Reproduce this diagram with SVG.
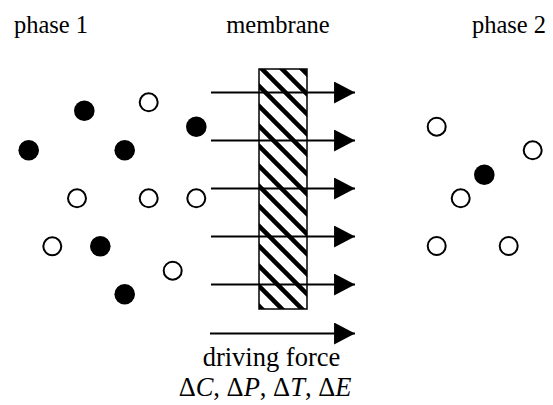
<svg xmlns="http://www.w3.org/2000/svg" width="553" height="405" viewBox="0 0 553 405">
<style>
text{font-family:"Liberation Serif","Times New Roman",serif;font-size:24.5px;fill:#000;text-anchor:middle}
.big{font-size:26.5px}
.i{font-style:italic}
.open{fill:#fff;stroke:#000;stroke-width:2}
.full{fill:#000}
.arr{stroke:#000;stroke-width:2;fill:none;marker-end:url(#ah)}
</style>
<defs>
<marker id="ah" markerUnits="userSpaceOnUse" markerWidth="22" markerHeight="22" refX="20" refY="10.5" orient="auto" viewBox="0 0 20 21">
<path d="M0,0 L20,10.5 L0,21 Z" fill="#000"/>
</marker>
<pattern id="hatch" patternUnits="userSpaceOnUse" x="13" y="0" width="20" height="20">
<rect width="20" height="20" fill="#fff"/>
<path d="M-5,-5 L25,25 M-5,15 L5,25 M15,-5 L25,5" stroke="#000" stroke-width="4.5"/>
</pattern>
</defs>
<text x="51" y="33">phase 1</text>
<text x="278" y="33">membrane</text>
<text x="509" y="33">phase 2</text>
<g id="membrane">
<rect x="259" y="69" width="48" height="240" fill="url(#hatch)" stroke="#000" stroke-width="1.5"/>
</g>
<g id="phase1">
<circle class="full" cx="84.3" cy="110.7" r="10.3"/>
<circle class="full" cx="28.7" cy="150.3" r="10.3"/>
<circle class="full" cx="124.7" cy="150.3" r="10.3"/>
<circle class="full" cx="196.3" cy="126.7" r="10.3"/>
<circle class="full" cx="100.3" cy="246.3" r="10.3"/>
<circle class="full" cx="124.7" cy="294.3" r="10.3"/>
<circle class="open" cx="148.7" cy="102.3" r="9"/>
<circle class="open" cx="77" cy="198.3" r="9"/>
<circle class="open" cx="148.7" cy="198.3" r="9"/>
<circle class="open" cx="196.3" cy="198.3" r="9"/>
<circle class="open" cx="52.3" cy="246.3" r="9"/>
<circle class="open" cx="172.7" cy="270.7" r="9"/>
</g>
<g id="phase2">
<circle class="open" cx="436.7" cy="126.7" r="9"/>
<circle class="open" cx="532.7" cy="150.3" r="9"/>
<circle class="open" cx="460.7" cy="198.3" r="9"/>
<circle class="open" cx="436.7" cy="246" r="9"/>
<circle class="open" cx="508.7" cy="246" r="9"/>
<circle class="full" cx="484.3" cy="174.7" r="10.3"/>
</g>
<g id="connectors">
<line class="arr" x1="211" y1="92.5" x2="355" y2="92.5"/>
<line class="arr" x1="211" y1="140.5" x2="355" y2="140.5"/>
<line class="arr" x1="211" y1="188.5" x2="355" y2="188.5"/>
<line class="arr" x1="211" y1="236.5" x2="355" y2="236.5"/>
<line class="arr" x1="211" y1="284.5" x2="355" y2="284.5"/>
<line class="arr" x1="210" y1="333.5" x2="355" y2="333.5"/>
</g>
<g id="label">
<text class="big" x="271.5" y="366">driving force</text>
<text class="big" x="265" y="396">Δ<tspan class="i">C</tspan>, Δ<tspan class="i">P</tspan>, Δ<tspan class="i">T</tspan>, Δ<tspan class="i">E</tspan></text>
</g>
</svg>
